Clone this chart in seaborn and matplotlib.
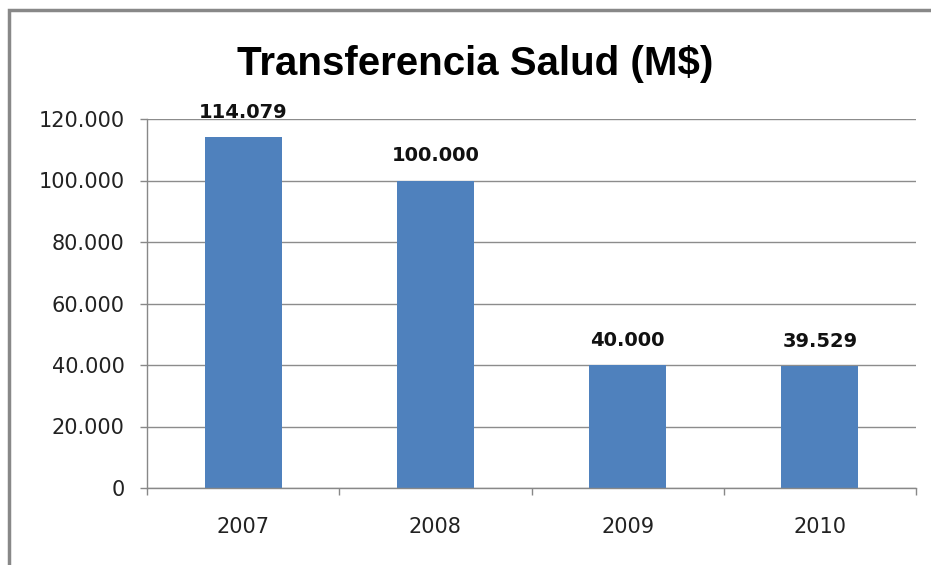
import matplotlib
matplotlib.use("Agg")
import matplotlib.pyplot as plt
import seaborn as sns
import pandas as pd
from matplotlib.patches import Rectangle

years = ["2007", "2008", "2009", "2010"]
values = [114079, 100000, 40000, 39529]
value_labels = ["114.079", "100.000", "40.000", "39.529"]
yticks = [0, 20000, 40000, 60000, 80000, 100000, 120000]
ytick_labels = ["0", "20.000", "40.000", "60.000", "80.000", "100.000", "120.000"]
title = "Transferencia Salud (M$)"

sns.set_theme(style="white")
plt.rcParams['font.family'] = ['DejaVu Sans']

df = pd.DataFrame({"year": years, "value": values})

fig = plt.figure(figsize=(9.31, 5.65), dpi=100)
ax = fig.add_axes([147/931, 1-488/565, (916-147)/931, (488-119)/565])

sns.barplot(data=df, x="year", y="value", color="#4F81BD", width=0.4,
            saturation=1, ax=ax, edgecolor="none")

ax.set_ylim(0, 120000)
ax.set_xlim(-0.5, 3.5)
ax.set_yticks(yticks)
ax.set_yticklabels(ytick_labels, fontsize=15, color="#222222")
ax.set_xticks([0, 1, 2, 3])
ax.set_xticklabels(years, fontsize=15, color="#222222")
ax.tick_params(axis="x", length=0, pad=21)
ax.tick_params(axis="y", left=True, length=5, color="#888888", width=1, pad=11)
ax.set_xlabel("")
ax.set_ylabel("")

# category boundary ticks
ax.set_xticks([-0.5, 0.5, 1.5, 2.5, 3.5], minor=True)
ax.tick_params(axis="x", which="minor", bottom=True, length=5, color="#888888", width=1)

ax.yaxis.grid(True, color="#8c8c8c", linewidth=1)
ax.set_axisbelow(True)
for s in ["top", "right"]:
    ax.spines[s].set_visible(False)
for s in ["left", "bottom"]:
    ax.spines[s].set_color("#888888")
    ax.spines[s].set_linewidth(1)

for i, (v, lab) in enumerate(zip(values, value_labels)):
    ax.annotate(lab, (i, v), xytext=(0, 11), textcoords="offset points",
                ha="center", va="bottom", fontsize=14, fontweight="bold", color="#111111")

fig.text(475/931, 1-64/565, title, ha="center", va="center",
         fontsize=29, fontweight="bold", color="#000000",
         family=["Liberation Sans"])

fig.patches.append(Rectangle((9/931, -0.2), 1.2, 1-10/565+0.2, transform=fig.transFigure,
                             fill=False, edgecolor="#888888", linewidth=2.5, figure=fig))

fig.savefig("out.png", dpi=100)
